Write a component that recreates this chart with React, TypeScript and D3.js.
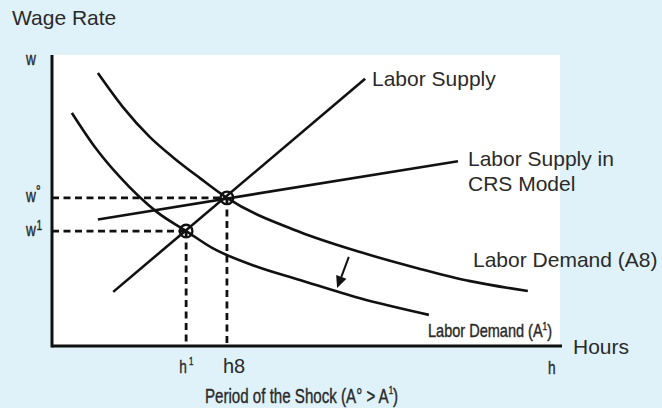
import * as d3 from 'd3'

const W = 662
const H = 408
const BG = '#dff2fa'
const INK = '#111'
const SANS = "'Liberation Sans', Arial, sans-serif"

// curves, chart units: hours 0-100, wage 0-100
const demandA0: [number, number][] = [
  [9.0, 93.8], [13.9, 82.1], [19.2, 71.8], [23.7, 64.9], [29.0, 57.7], [34.3, 50.9],
  [48.6, 39.2], [60.4, 32.3], [72.2, 26.5], [82.0, 22.3], [93.3, 18.9]
]
const demandA1: [number, number][] = [
  [3.9, 80.1], [8.4, 68.4], [13.3, 58.1], [20.6, 46.0], [26.3, 39.5], [31.4, 33.7],
  [39.8, 27.5], [48.6, 22.7], [60.4, 16.4], [73.9, 10.7]
]
const laborSupply: [number, number][] = [[12.0, 18.6], [61.4, 91.8]]
const crsSupply: [number, number][] = [[9.0, 43.5], [79.6, 63.5]]
// equilibria: before shock (w°, h8) and during shock (w1, h1)
const equilibria = [
  { name: '0', h: 34.3, w: 50.9 },
  { name: '1', h: 26.3, w: 39.5 }
]
const shiftArrow: [number, number][] = [[58.2, 30.6], [55.9, 19.9]]

export default function App() {
  const x = d3.scaleLinear().domain([0, 100]).range([52, 562])
  const y = d3.scaleLinear().domain([0, 100]).range([346, 55])

  const straight = d3.line<[number, number]>().x(d => x(d[0])).y(d => y(d[1]))
  const smooth = d3.line<[number, number]>()
    .x(d => x(d[0])).y(d => y(d[1]))
    .curve(d3.curveMonotoneX)

  // arrow
  const [ax0, ay0] = [x(shiftArrow[0][0]), y(shiftArrow[0][1])]
  const [ax1, ay1] = [x(shiftArrow[1][0]), y(shiftArrow[1][1])]
  const len = Math.hypot(ax1 - ax0, ay1 - ay0)
  const ux = (ax1 - ax0) / len, uy = (ay1 - ay0) / len
  const head = 12, half = 5.5
  const bx = ax1 - ux * head, by = ay1 - uy * head
  const headPts = `${ax1},${ay1} ${bx - uy * half},${by + ux * half} ${bx + uy * half},${by - ux * half}`

  const e0 = equilibria[0], e1 = equilibria[1]

  return (
    <div>
      <style>{`body{margin:0}`}</style>
      <svg width={W} height={H} style={{ display: 'block' }}>
        <rect x={0} y={0} width={W} height={H} fill={BG} />
        <rect x={x(0)} y={y(100)} width={x(100) - x(0) - 2} height={y(0) - y(100)} fill="#fff" />

        {/* dashed guides */}
        {equilibria.map(e => (
          <g key={e.name} stroke={INK} strokeWidth={2.8} strokeDasharray="7,4.5" fill="none">
            <line x1={x(0)} x2={x(e.h)} y1={y(e.w)} y2={y(e.w)} />
            <line x1={x(e.h)} x2={x(e.h)} y1={y(e.w)} y2={y(0)} />
          </g>
        ))}

        {/* curves */}
        <g fill="none" stroke={INK} strokeWidth={2.6}>
          <path d={smooth(demandA0) || ''} />
          <path d={smooth(demandA1) || ''} />
          <path d={straight(laborSupply) || ''} />
          <path d={straight(crsSupply) || ''} />
        </g>

        {/* shift arrow */}
        <line x1={ax0} y1={ay0} x2={bx} y2={by} stroke={INK} strokeWidth={2} />
        <polygon points={headPts} fill={INK} />

        {/* equilibrium markers */}
        {equilibria.map(e => (
          <circle key={e.name} cx={x(e.h)} cy={y(e.w)} r={6.3} fill="none" stroke={INK} strokeWidth={2.3} />
        ))}

        {/* axes */}
        <line x1={x(0)} x2={x(0)} y1={y(100)} y2={y(0) + 1.5} stroke={INK} strokeWidth={3} />
        <line x1={x(0)} x2={x(100)} y1={y(0)} y2={y(0)} stroke={INK} strokeWidth={3} />

        {/* main labels */}
        <g fontFamily={SANS} fontSize={21} fill="#2a2a2a">
          <text x={12} y={25}>Wage Rate</text>
          <text x={372} y={86}>Labor Supply</text>
          <text x={468} y={166}>Labor Supply in</text>
          <text x={468} y={191}>CRS Model</text>
          <text x={473} y={267}>Labor Demand (A8)</text>
          <text x={573} y={354}>Hours</text>
        </g>

        {/* condensed tick labels */}
        <g fontFamily={SANS} fill="#2a2a2a" stroke="#2a2a2a" strokeWidth={0.4}>
          <text transform="translate(26,65) scale(0.72,1)" fontSize={19}>w</text>
          <text transform={`translate(26,${y(e0.w) + 4}) scale(0.72,1)`} fontSize={19}>
            w<tspan fontSize={16} dy={-5}>°</tspan>
          </text>
          <text transform={`translate(26,${y(e1.w) + 5}) scale(0.72,1)`} fontSize={19}>
            w<tspan fontSize={14} dx={1} dy={-6}>1</tspan>
          </text>
          <text transform={`translate(${x(e1.h) - 7},373) scale(0.72,1)`} fontSize={19}>
            h<tspan fontSize={11} dx={3} dy={-8}>1</tspan>
          </text>
          <text x={x(e0.h) - 4} y={373} fontSize={20} strokeWidth={0}>h8</text>
          <text transform="translate(548,374) scale(0.72,1)" fontSize={19}>h</text>
          <text transform="translate(428,337) scale(0.83,1)" fontSize={17.5}>
            Labor Demand (A<tspan fontSize={10} dy={-7}>1</tspan><tspan dy={7}>)</tspan>
          </text>
          <text transform="translate(205,403) scale(0.72,1)" fontSize={21}>
            Period of the Shock (A° &gt; A<tspan fontSize={11} dy={-9}>1</tspan><tspan dy={9}>)</tspan>
          </text>
        </g>
      </svg>
    </div>
  )
}
